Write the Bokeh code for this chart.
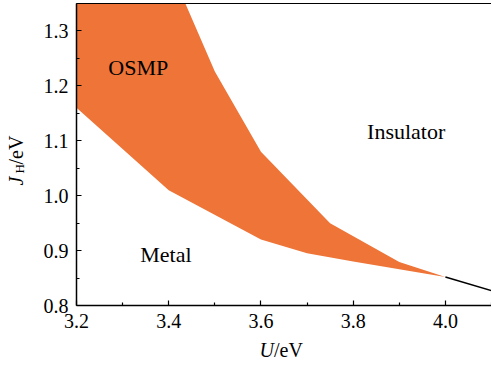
import math
from bokeh.plotting import figure
from bokeh.models import Range1d, FixedTicker, Label
from bokeh.core.properties import value
from bokeh.embed import file_html
from bokeh.resources import INLINE

# ---------------- data ----------------
u_upper = [3.4, 3.5, 3.6, 3.75, 3.9, 4.0]          # OSMP / Insulator boundary
j_upper = [1.42, 1.226, 1.08, 0.95, 0.879, 0.852]
u_lower = [3.2, 3.4, 3.6, 3.7, 3.8, 3.9, 4.0]      # Metal / OSMP boundary
j_lower = [1.16, 1.01, 0.92, 0.895, 0.88, 0.866, 0.852]
u_ins = [4.0, 4.1]                                 # Metal / Insulator line
j_ins = [0.852, 0.827]

x_ticks = [3.2, 3.4, 3.6, 3.8, 4.0]
x_tick_labels = ["3.2", "3.4", "3.6", "3.8", "4.0"]
x_minor = [3.3, 3.5, 3.7, 3.9, 4.1]
y_ticks = [0.8, 0.9, 1.0, 1.1, 1.2, 1.3]
y_tick_labels = ["0.8", "0.9", "1.0", "1.1", "1.2", "1.3"]
y_minor = [0.85, 0.95, 1.05, 1.15, 1.25, 1.35]

phase_names = ["OSMP", "Insulator", "Metal"]
phase_u = [3.334, 3.915, 3.394]
phase_j = [1.233, 1.117, 0.892]

x_lo, x_hi = 3.2, 4.1
y_lo, y_hi = 0.8, 1.35

# ---------------- layout ----------------
W, H = 491, 367
L, R, T, B = 76, 491, 3, 305          # pixel box of the plotting area
FONT = "Liberation Serif"
ORANGE = "#EE7437"

sx = (R - L) / (x_hi - x_lo)
sy = (B - T) / (y_hi - y_lo)
x_range = Range1d(x_lo - L / sx, x_hi + (W - R) / sx)
y_range = Range1d(y_lo - (H - B) / sy, y_hi + T / sy)

p = figure(width=W, height=H, x_range=x_range, y_range=y_range, title=None,
           output_backend="svg", toolbar_location=None,
           min_border_left=0, min_border_right=0, min_border_top=0, min_border_bottom=0)
p.grid.visible = False
p.outline_line_color = None
p.background_fill_color = "white"
p.border_fill_color = "white"

# ---------------- OSMP region, clipped at the top of the axes ----------------
def clip_top(us, js, top):
    cu, cj = [], []
    for i in range(len(us)):
        if js[i] <= top:
            if i > 0 and js[i - 1] > top:
                f = (js[i - 1] - top) / (js[i - 1] - js[i])
                cu.append(us[i - 1] + f * (us[i] - us[i - 1]))
                cj.append(top)
            cu.append(us[i])
            cj.append(js[i])
    return cu, cj

cu, cj = clip_top(u_upper, j_upper, y_hi)
xs = [u_lower[0]] + cu + u_lower[::-1]
ys = [y_hi] + cj + j_lower[::-1]
p.patch(xs, ys, fill_color=ORANGE, line_color=None)
p.line(u_ins, j_ins, line_color="black", line_width=1.5)

# top frame line
p.line([x_lo, x_hi], [y_hi, y_hi], line_color="black", line_width=1.2)

# phase labels
p.text(x=phase_u, y=phase_j, text=phase_names, text_font=value(FONT),
       text_font_size="22px", text_align="center", text_baseline="middle", text_color="black")

# ---------------- axes ----------------
p.xaxis[0].ticker = FixedTicker(ticks=x_ticks, minor_ticks=x_minor)
p.yaxis[0].ticker = FixedTicker(ticks=y_ticks, minor_ticks=y_minor)
p.xaxis[0].fixed_location = y_lo
p.yaxis[0].fixed_location = x_lo
p.xaxis[0].bounds = (x_lo, x_hi)
p.yaxis[0].bounds = (y_lo, y_hi)
p.xaxis[0].major_label_overrides = {t: "" for t in x_ticks}
p.yaxis[0].major_label_overrides = {t: "" for t in y_ticks}
for ax in (p.xaxis[0], p.yaxis[0]):
    ax.major_tick_in = 5
    ax.major_tick_out = 0
    ax.minor_tick_in = 3
    ax.minor_tick_out = 0
    ax.axis_line_width = 1.5
    ax.axis_line_color = "black"
    ax.major_tick_line_color = "black"
    ax.minor_tick_line_color = "black"
    ax.major_tick_line_width = 1.2
    ax.minor_tick_line_width = 1.2
    ax.major_label_text_font_size = "0px"

# tick labels
p.text(x=x_ticks, y=[y_lo] * len(x_ticks), text=x_tick_labels, text_font=value(FONT),
       text_font_size="20px", text_align="center", text_baseline="middle",
       y_offset=15, text_color="black")
p.text(x=[x_lo] * len(y_ticks), y=y_ticks, text=y_tick_labels, text_font=value(FONT),
       text_font_size="20px", text_align="right", text_baseline="middle",
       x_offset=-8, text_color="black")

# axis titles (screen pixels from the canvas bottom-left)
def lab(x, y, text, size="20px", style="normal", align="left", angle=0.0):
    p.add_layout(Label(x=x, y=H - y, x_units="screen", y_units="screen", text=text,
                       text_font=FONT, text_font_size=size, text_font_style=style,
                       text_align=align, text_baseline="middle", text_color="black",
                       angle=angle))

lab(273.5, 349, "U", style="italic", align="right")
lab(273.5, 349, "/eV", align="left")
a = math.pi / 2
lab(15, 185, "J", style="italic", angle=a)
lab(19, 173, "H", size="13px", angle=a)
lab(15, 164, "/eV", angle=a)

open("out.html", "w").write(file_html(p, INLINE))
